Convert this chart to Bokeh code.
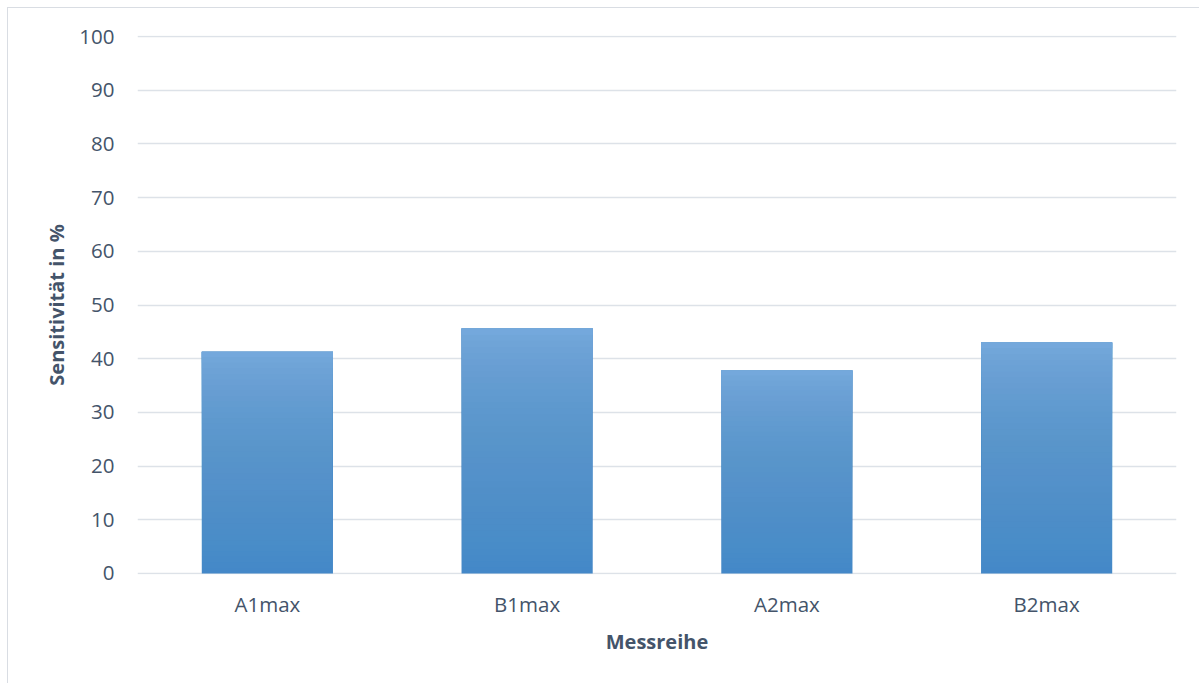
from bokeh.plotting import figure
from bokeh.models import FactorRange, Range1d, FixedTicker
from bokeh.embed import file_html
from bokeh.resources import INLINE

categories = ["A1max", "B1max", "A2max", "B2max"]
values = [41.3, 45.6, 37.8, 43.0]
y_ticks = [0, 10, 20, 30, 40, 50, 60, 70, 80, 90, 100]

TEXT = "#44546A"
GRID = "#DDE2E8"
FONT = "Open Sans"
TOP_COLOR = "#74A8DC"
BOTTOM_COLOR = "#4488C8"

p = figure(x_range=FactorRange(*categories, range_padding=0), y_range=Range1d(-0.2, 100.2),
           width=1192, height=676, output_backend="svg", toolbar_location=None,
           min_border_left=129, min_border_right=24, min_border_top=27, min_border_bottom=110)
p.outline_line_color = None
p.background_fill_color = "white"
p.border_fill_color = "white"
p.styles = {"margin-left": "7px", "margin-top": "7px",
            "border-left": "1px solid #D9DDE3", "border-top": "1px solid #D9DDE3"}

# base bars in the bottom colour
p.vbar(x=categories, top=values, width=0.505, fill_color=BOTTOM_COLOR, line_color=None)

# translucent overlays giving a vertical gradient towards the top colour
n = 40
xs, bottoms, tops, alphas = [], [], [], []
for c, v in zip(categories, values):
    for s in range(1, n):
        xs.append(c)
        bottoms.append(v * s / n)
        tops.append(v)
        alphas.append(1.0 / (n - s))
p.vbar(x=xs, bottom=bottoms, top=tops, width=0.505, fill_color=TOP_COLOR,
       fill_alpha=alphas, line_color=None)

p.xgrid.grid_line_color = None
p.ygrid.grid_line_color = GRID
p.ygrid.grid_line_width = 1.3
p.yaxis.ticker = FixedTicker(ticks=y_ticks)

for ax in (p.xaxis[0], p.yaxis[0]):
    ax.axis_line_color = None
    ax.major_tick_line_color = None
    ax.minor_tick_line_color = None
    ax.major_label_text_color = TEXT
    ax.major_label_text_font = FONT
    ax.major_label_text_font_size = "20.5px"
    ax.axis_label_text_color = TEXT
    ax.axis_label_text_font = FONT
    ax.axis_label_text_font_size = "20px"
    ax.axis_label_text_font_style = "bold"

p.yaxis.axis_label = "Sensitivität in %"
p.yaxis.major_label_standoff = 17
p.yaxis.axis_label_standoff = 6
p.xaxis.axis_label = "Messreihe"
p.xaxis.major_label_standoff = 9
p.xaxis.axis_label_standoff = 7

open("out.html", "w").write(file_html(p, INLINE))
